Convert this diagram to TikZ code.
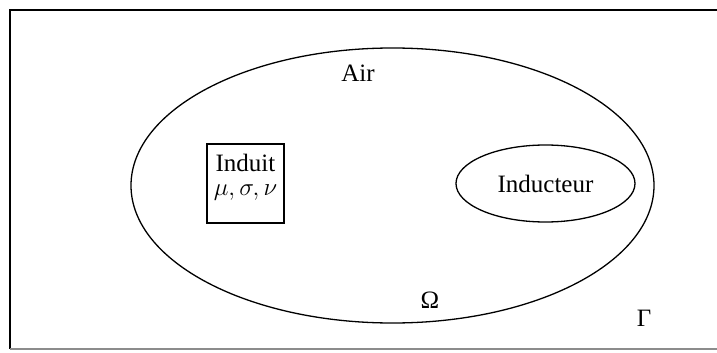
\documentclass[tikz,border=0pt]{standalone}
\usepackage{fontspec}
\setmainfont{Liberation Serif}
\usetikzlibrary{shapes.geometric}
\begin{document}
\begin{tikzpicture}[x=1pt,y=-1pt,line width=1.3pt,
		every node/.style={font=\fontsize{25}{29}\selectfont,inner sep=0pt},
		region/.style={ellipse,draw,line width=1.3pt}]
		\useasboundingbox (0,0) rectangle (717,353);
		\draw[line width=1.6pt] (717,10) -- (10,10) -- (10,349);
		\draw[line width=1.2pt,black!45] (10,349) -- (717,349);
		\node[region,minimum width=523pt,minimum height=275pt] (air) at (392.5,185.5) {};
		\node[region,minimum width=179pt,minimum height=77pt] (inducteur) at (545.5,183.5) {Inducteur};
		\node[draw,line width=2pt,minimum width=77pt,minimum height=79pt] (induit) at (245.5,183.5) {};
		\node (nom) at (245.5,163) {Induit};
		\node (param) at (245.5,193) {$\mu,\sigma,\nu$};
		\node (lair) at (358,73) {Air};
		\node (omega) at (430,300) {Ω};
		\node (gamma) at (644,318) {Γ};
	\end{tikzpicture}
\end{document}
